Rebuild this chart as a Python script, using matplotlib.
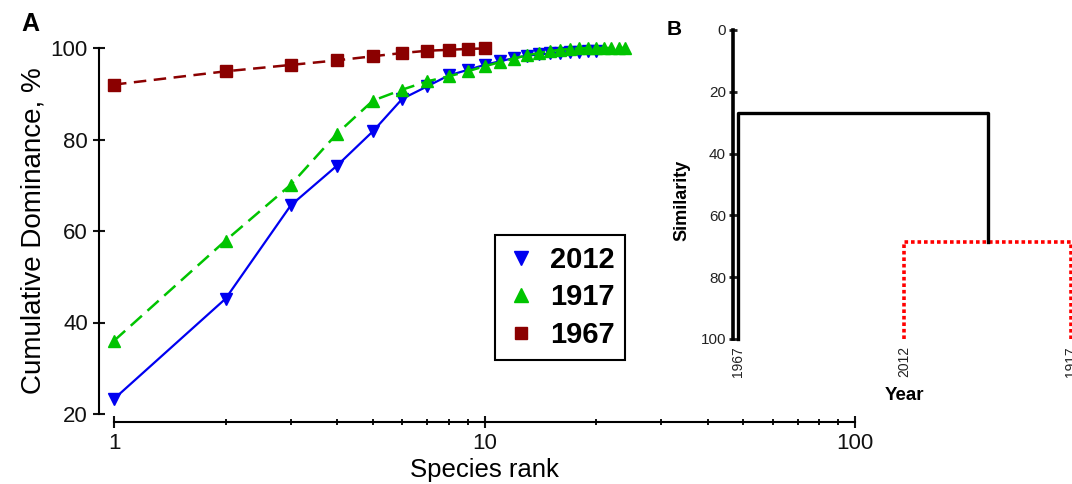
import matplotlib
matplotlib.use("Agg")
import matplotlib.pyplot as plt
from matplotlib.lines import Line2D
from matplotlib.ticker import FixedLocator, NullFormatter
import numpy as np

plt.rcParams["font.family"] = ["Liberation Sans", "DejaVu Sans"]

# panel A: cumulative dominance curves
rank_2012 = list(range(1, 21))
dom_2012 = [23.3, 45.2, 65.6, 74.3, 81.8, 88.9, 91.6, 94.0, 95.2, 96.3,
            97.1, 97.8, 98.3, 98.6, 98.8, 99.0, 99.1, 99.2, 99.3, 99.4]
rank_1917 = list(range(1, 25))
dom_1917 = [36.0, 57.9, 70.1, 81.3, 88.5, 90.9, 92.7, 93.8, 94.9, 96.0,
            96.9, 97.7, 98.4, 98.9, 99.3, 99.6, 99.8, 99.9, 100.0, 100.0,
            100.0, 100.0, 100.0, 100.0]
rank_1967 = list(range(1, 11))
dom_1967 = [92.0, 94.9, 96.3, 97.3, 98.2, 98.9, 99.4, 99.6, 99.8, 99.9]

# panel B: dendrogram of years
leaf_labels = ["1967", "2012", "1917"]
leaf_pos = [0, 1, 2]
sim_inner = 68.6   # 2012 + 1917
sim_outer = 26.8   # 1967 + (2012, 1917)

c_blue = "#0000f0"
c_green = "#00c400"
c_red = "#8b0000"

PX = 72 / 100  # points per pixel

fig = plt.figure(figsize=(10.72, 4.84), dpi=100)

# ---- panel A ----
ax = fig.add_axes([114 / 1072, 70 / 484, 741 / 1072, 366 / 484])
ax.plot(rank_2012, dom_2012, color=c_blue, lw=1.6, marker="v", ms=9,
        zorder=3, clip_on=False)
ax.plot(rank_1917, dom_1917, color=c_green, lw=1.8, ls=(0, (6, 3)),
        marker="^", ms=9, zorder=4, clip_on=False)
ax.plot(rank_1967, dom_1967, color=c_red, lw=1.8, ls=(0, (5, 3)),
        marker="s", ms=8.5, zorder=5, clip_on=False)

ax.set_xscale("log")
ax.set_xlim(1, 100)
ax.set_ylim(20, 100)
for s in ["top", "right"]:
    ax.spines[s].set_visible(False)
ax.spines["left"].set_position(("outward", 15 * PX))
ax.spines["bottom"].set_position(("outward", 8 * PX))
ax.spines["left"].set_linewidth(1.5)
ax.spines["bottom"].set_linewidth(1.5)
ax.set_yticks([20, 40, 60, 80, 100])
ax.set_xticks([1, 10, 100])
ax.set_xticklabels(["1", "10", "100"])
ax.xaxis.set_minor_locator(FixedLocator(
    [v * d for d in (1, 10) for v in range(2, 10)]))
ax.xaxis.set_minor_formatter(NullFormatter())
ax.tick_params(axis="both", which="major", direction="inout", length=9,
               width=1.5, labelsize=16, colors="#111111")
ax.tick_params(axis="x", which="minor", direction="inout", length=5,
               width=1.3)
ax.set_ylabel("Cumulative Dominance, %", fontsize=20, labelpad=3)
ax.set_xlabel("Species rank", fontsize=18.5, labelpad=3)

handles = [
    Line2D([], [], color=c_blue, marker="v", ls="none", ms=10),
    Line2D([], [], color=c_green, marker="^", ls="none", ms=10),
    Line2D([], [], color=c_red, marker="s", ls="none", ms=8),
]
leg = ax.legend(handles, ["2012", "1917", "1967"], loc="upper left",
                bbox_to_anchor=(0.514, 0.489), borderaxespad=0,
                fancybox=False, framealpha=1, edgecolor="black",
                prop={"size": 21, "weight": "bold"}, handlelength=1.0,
                handletextpad=0.5, labelspacing=0.32, borderpad=0.38)
leg.get_frame().set_linewidth(1.5)

fig.text(21 / 1072, 1 - 31 / 484, "A", fontsize=18, fontweight="bold")

# ---- panel B ----
step = 166.5
x0 = -0.03
xr = 2.15
bx = fig.add_axes([733 / 1072, 145 / 484, xr * step / 1072, 309 / 484])
inner_x = np.mean(leaf_pos[1:])
bx.plot([leaf_pos[1], leaf_pos[1], leaf_pos[2], leaf_pos[2]],
        [100, sim_inner, sim_inner, 100], color="#ff0000", lw=2.6,
        ls=(0, (1, 0.8)), solid_capstyle="butt", clip_on=False)
bx.plot([leaf_pos[0], leaf_pos[0], inner_x, inner_x],
        [100, sim_outer, sim_outer, sim_inner], color="black", lw=2.4,
        clip_on=False)

bx.set_xlim(x0, x0 + xr)
bx.set_ylim(100, 0)
for s in ["top", "right", "bottom"]:
    bx.spines[s].set_visible(False)
bx.spines["left"].set_linewidth(2.6)
bx.set_yticks([0, 20, 40, 60, 80, 100])
bx.tick_params(axis="y", direction="inout", length=6, width=2,
               labelsize=11, colors="#222222", pad=2)
bx.set_xticks(leaf_pos)
bx.set_xticklabels(leaf_labels, rotation=90, fontsize=10)
bx.tick_params(axis="x", length=0, pad=5, colors="#222222")
bx.set_ylabel("Similarity", fontsize=13, fontweight="bold")
bx.yaxis.set_label_coords(-0.12, 0.45)
bx.set_xlabel("Year", fontsize=13.5, fontweight="bold")
bx.xaxis.set_label_coords((leaf_pos[1] - x0) / xr, -0.155)

fig.text(667 / 1072, 1 - 35 / 484, "B", fontsize=15, fontweight="bold")

fig.savefig("out.png", dpi=100)
